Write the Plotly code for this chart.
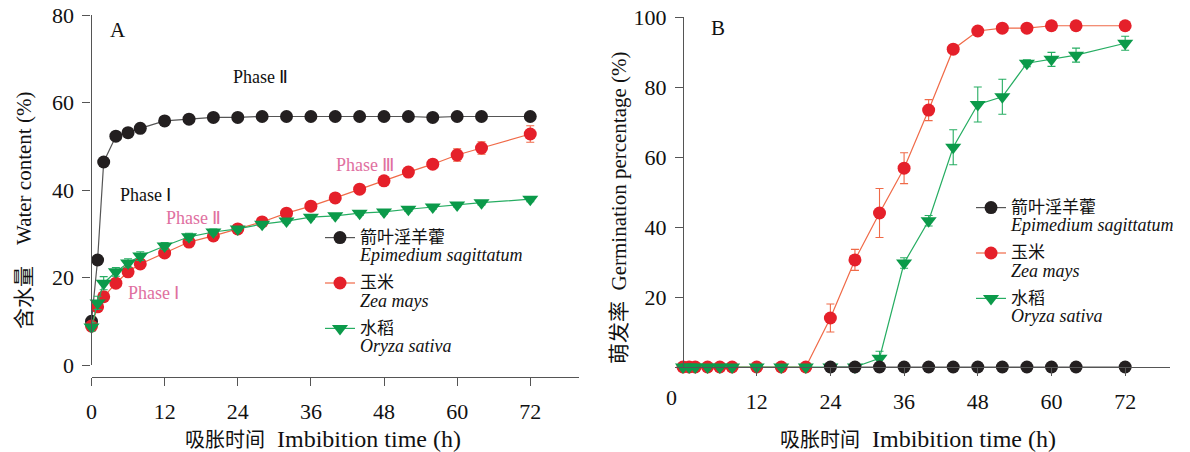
import plotly.graph_objects as go

# The page body adds an 8px margin, so the figure is drawn 8px smaller and
# positions below are given in screenshot pixels and shifted by OFF.
OFF = 8
W, H = 1190 - OFF, 452 - OFF

# ---------------- data ----------------
hours = [0, 1, 2, 4, 6, 8, 12, 16, 20, 24, 28, 32, 36, 40, 44, 48, 52, 56, 60, 64, 72]

# Panel A: water content (%)
water_epimedium = [10.0, 24.0, 46.4, 52.3, 53.1, 54.1, 55.8, 56.2, 56.6, 56.6, 56.8, 56.8,
                   56.8, 56.8, 56.8, 56.8, 56.8, 56.6, 56.8, 56.8, 56.8]
water_epimedium_err = [0.3] * 21
water_zea = [8.9, 13.3, 15.6, 18.7, 21.3, 23.1, 25.6, 28.1, 29.5, 31.1, 32.7, 34.7,
             36.3, 38.2, 40.2, 42.1, 44.1, 45.9, 48.0, 49.6, 52.8]
water_zea_err = [0.8, 0.8, 0.8, 0.6, 0.6, 0.6, 0.6, 0.6, 0.5, 0.5, 0.5, 0.6,
                 0.6, 0.6, 0.6, 0.7, 0.8, 1.0, 1.4, 1.4, 1.9]
water_oryza = [8.7, 14.2, 18.7, 21.3, 23.3, 24.9, 27.2, 29.3, 30.4, 31.1, 32.2, 32.9,
               33.8, 34.1, 34.7, 35.0, 35.6, 36.1, 36.6, 37.1, 37.9]
water_oryza_err = [1.0, 1.5, 1.5, 1.0, 1.0, 1.0, 0.8, 0.8, 0.7, 0.5, 0.5, 0.5,
                   0.5, 0.5, 0.5, 0.5, 0.5, 0.5, 0.5, 0.5, 0.6]

# Panel B: germination percentage (%)
germ_hours_epimedium = [24, 28, 32, 36, 40, 44, 48, 52, 56, 60, 64, 72]
germ_epimedium = [0, 0, 0, 0, 0, 0, 0, 0, 0, 0, 0, 0]
germ_zea = [0, 0, 0, 0, 0, 0, 0, 0, 0, 14.0, 30.6, 44.0,
            56.8, 73.4, 90.8, 96.0, 96.8, 96.8, 97.5, 97.5, 97.5]
germ_zea_err = [0, 0, 0, 0, 0, 0, 0, 0, 0, 4.0, 3.0, 7.0,
                4.4, 3.0, 1.0, 0.5, 0.5, 0.5, 0.5, 0.5, 0.5]
germ_oryza = [0, 0, 0, 0, 0, 0, 0, 0, 0, 0, 0, 2.5,
              29.7, 41.8, 62.8, 75.0, 77.2, 86.8, 87.9, 89.1, 92.5]
germ_oryza_err = [0, 0, 0, 0, 0, 0, 0, 0, 0, 0, 0, 2.0,
                  1.5, 1.5, 5.0, 5.0, 5.0, 1.0, 2.0, 2.0, 2.0]

species_cn = ["箭叶淫羊藿", "玉米", "水稻"]
species_latin = ["Epimedium sagittatum", "Zea mays", "Oryza sativa"]
x_ticks_a = [0, 12, 24, 36, 48, 60, 72]
x_ticks_b = [12, 24, 36, 48, 60, 72]
y_ticks_a = [0, 20, 40, 60, 80]
y_ticks_b = [20, 40, 60, 80, 100]

# ---------------- styles ----------------
FONT = "Liberation Serif"
CJK = "Noto Sans CJK SC"
BLK_M, BLK_L = "#231f20", "#555555"
RED_M, RED_L = "#e5202a", "#f06a48"
GRN_M, GRN_L = "#0b9a4a", "#26ad62"
PINK = "#e0709f"
AXC = "#555555"


def cjk(text, size):
    return "<span style=\"font-family:%s;font-size:%dpx\">%s</span>" % (CJK, size, text)


names = ["%s<br><span style=\"font-size:18px\"><i>%s</i></span>" % (cjk(c, 17), l)
         for c, l in zip(species_cn, species_latin)]


def px(x):
    return (x - OFF) / W


def py(y):
    return 1 - (y - OFF) / H


fig = go.Figure()


def add(x, y, err, name, mcol, lcol, symbol, size, xa, ya, legend, rank):
    kw = {}
    if err is not None:
        kw["error_y"] = dict(type="data", array=err, visible=True, color=lcol,
                             thickness=1.1, width=4)
    fig.add_trace(go.Scatter(
        x=x, y=y, name=name, mode="lines+markers",
        line=dict(color=lcol, width=1.2),
        marker=dict(color=mcol, size=size, symbol=symbol, line=dict(width=0)),
        xaxis=xa, yaxis=ya, legend=legend, legendrank=rank,
        legendgroup="%s_%d" % (legend, rank),
        cliponaxis=False, **kw))


# Panel A
add(hours, water_epimedium, water_epimedium_err, names[0], BLK_M, BLK_L, "circle", 13, "x", "y", "legend", 1)
add(hours, water_zea, water_zea_err, names[1], RED_M, RED_L, "circle", 13, "x", "y", "legend", 2)
add(hours, water_oryza, water_oryza_err, names[2], GRN_M, GRN_L, "triangle-down", 14, "x", "y", "legend", 3)

# Panel B
add(hours, germ_zea, germ_zea_err, names[1], RED_M, RED_L, "circle", 13, "x2", "y2", "legend2", 2)
add(hours, germ_oryza, germ_oryza_err, names[2], GRN_M, GRN_L, "triangle-down", 14, "x2", "y2", "legend2", 3)
add(germ_hours_epimedium, germ_epimedium, None, names[0], BLK_M, BLK_L, "circle", 13, "x2", "y2", "legend2", 1)

axis_common = dict(showgrid=False, zeroline=False, showline=True, linecolor=AXC, linewidth=1.2,
                   ticks="outside", ticklen=8, tickcolor=AXC, tickwidth=1.2, automargin=False,
                   ticklabeloverflow="allow",
                   tickfont=dict(family=FONT, size=22, color="#111"))

legend_common = dict(xanchor="left", yanchor="top", valign="top",
                     bgcolor="rgba(0,0,0,0)", font=dict(family=FONT, size=14, color="#111"),
                     tracegroupgap=6, itemwidth=30)

fig.update_layout(
    width=W, height=H,
    margin=dict(l=0, r=0, t=0, b=0, autoexpand=False),
    paper_bgcolor="white", plot_bgcolor="white",
    font=dict(family=FONT, color="#111"),
    xaxis=dict(domain=[px(91.5), px(579)], range=[0, 80], anchor="free", position=py(377),
               tickvals=x_ticks_a, ticklabelstandoff=6, **axis_common),
    yaxis=dict(domain=[py(365), py(15)], range=[0, 80], anchor="x",
               tickvals=y_ticks_a, ticklabelstandoff=4, **axis_common),
    xaxis2=dict(domain=[px(675), px(1170)], range=[-1.3, 79.3], anchor="y2",
                tickvals=x_ticks_b, ticklabelstandoff=6, **axis_common),
    yaxis2=dict(domain=[py(367), py(17)], range=[0, 100], anchor="free", position=px(683),
                tickvals=y_ticks_b, ticklabelstandoff=4, **axis_common),
    legend=dict(x=px(320), y=py(222), **legend_common),
    legend2=dict(x=px(971), y=py(192), **legend_common),
)


def ann(text, x, y, size=19, color="#111", angle=0, xanchor="center"):
    fig.add_annotation(text=text, x=px(x), y=py(y), xref="paper", yref="paper",
                       showarrow=False, textangle=angle, xanchor=xanchor, yanchor="middle",
                       align="left" if xanchor == "left" else "center",
                       font=dict(family=FONT, size=size, color=color))


ann("A", 118, 30, size=21)
ann("B", 718, 28, size=21)
ann("Phase Ⅱ", 231, 77, size=18, xanchor="left")
ann("Phase Ⅰ", 118, 195, size=18, xanchor="left")
ann("Phase Ⅱ", 164, 218, size=18, color=PINK, xanchor="left")
ann("Phase Ⅰ", 126, 293, size=18, color=PINK, xanchor="left")
ann("Phase Ⅲ", 334, 165, size=18, color=PINK, xanchor="left")
ann("0", 672, 397, size=22)
xtitle = cjk("吸胀时间", 20) + "  Imbibition time (h)"
ann(xtitle, 323, 438, size=24)
ann(xtitle, 918, 438, size=24)
ann(cjk("含水量", 21) + "    Water content (%)", 22, 211, size=21, angle=-90)
ann(cjk("萌发率", 21) + "  Germination percentage (%)", 617, 208, size=21, angle=-90)

fig.write_html("out.html")
